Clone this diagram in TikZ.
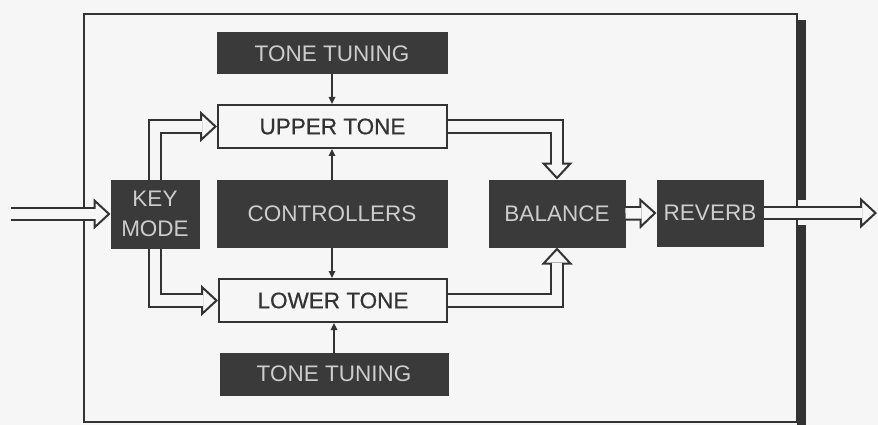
\documentclass[tikz,border=0pt]{standalone}
\usepackage{fontspec}
\setmainfont{Liberation Sans}
\newfontfamily\heavyface[FakeBold=0.6]{Liberation Sans}
\usetikzlibrary{arrows.meta}
\definecolor{paper}{HTML}{F6F6F6}
\definecolor{ink}{HTML}{333333}
\definecolor{slab}{HTML}{3A3A3A}
\definecolor{pale}{HTML}{CDCDCD}
\begin{document}
\begin{tikzpicture}[x=1pt,y=-1pt,
  every node/.style={font=\fontsize{22.5}{29.5}\selectfont, inner sep=0pt, align=center},
  darkbox/.style={fill=slab, draw=slab, line width=1pt, text=pale},
  litebox/.style={fill=paper, draw=ink, line width=2pt, text=ink,
    font=\heavyface\fontsize{22.5}{29.5}\selectfont},
  feed/.style={draw=ink, line width=1.6pt, -{Triangle[length=7pt,width=6.5pt]}},
  dbl/.style={draw=paper, line width=10.5pt, line join=miter, shorten >=15pt,
    preaction={draw=ink, line width=14.5pt, line join=miter, shorten >=0pt,
      -{Triangle[length=17pt,width=31pt,line width=2pt,fill=paper]}}}]

% page and background
\useasboundingbox (0,0) rectangle (878,425);
\fill[paper] (0,0) rectangle (878,425);

% enclosing frame with its shadow on the right
\draw[ink, line width=2.6pt] (84,14) rectangle (797,422);
\fill[ink] (797,20) rectangle (806,200);
\fill[ink] (797,225) rectangle (806,425);

% named positions for the free ends of the signal path
\coordinate (in)  at (11,214);
\coordinate (out) at (877,213);

% blocks
\node[darkbox, minimum width=230pt, minimum height=41pt] (tt1)   at (332,53.5)  {TONE TUNING};
\node[litebox, minimum width=229pt, minimum height=43pt] (upper) at (332.5,126.5) {UPPER TONE};
\node[darkbox, minimum width=230pt, minimum height=67pt] (ctrl)  at (332,213.5) {CONTROLLERS};
\node[litebox, minimum width=228pt, minimum height=43pt] (lower) at (333,300.5) {LOWER TONE};
\node[darkbox, minimum width=228pt, minimum height=42pt] (tt2)   at (334,374)   {TONE TUNING};
\node[darkbox, minimum width=88pt,  minimum height=68pt] (key)   at (155,214)   {KEY\\MODE};
\node[darkbox, minimum width=136pt, minimum height=67pt] (bal)   at (557,213.5) {BALANCE};
\node[darkbox, minimum width=106pt, minimum height=66pt] (rev)   at (710,213)   {REVERB};

% audio routing (hollow double-line arrows)
\draw[dbl] (in) -- (key.west);
\draw[dbl] (key.north) |- (upper.west);
\draw[dbl] (key.south) |- (lower.west);
\draw[dbl] (upper.east) -| (bal.north);
\draw[dbl] (lower.east) -| (bal.south);
\draw[dbl] (bal.east) -- (rev.west);
\draw[dbl] (rev.east) -- (out);

% control connections
\draw[feed] (tt1.south) -- (tt1.south |- upper.north);
\draw[feed] (ctrl.north) -- (ctrl.north |- upper.south);
\draw[feed] (ctrl.south) -- (ctrl.south |- lower.north);
\draw[feed] (tt2.north) -- (tt2.north |- lower.south);
\end{tikzpicture}
\end{document}
